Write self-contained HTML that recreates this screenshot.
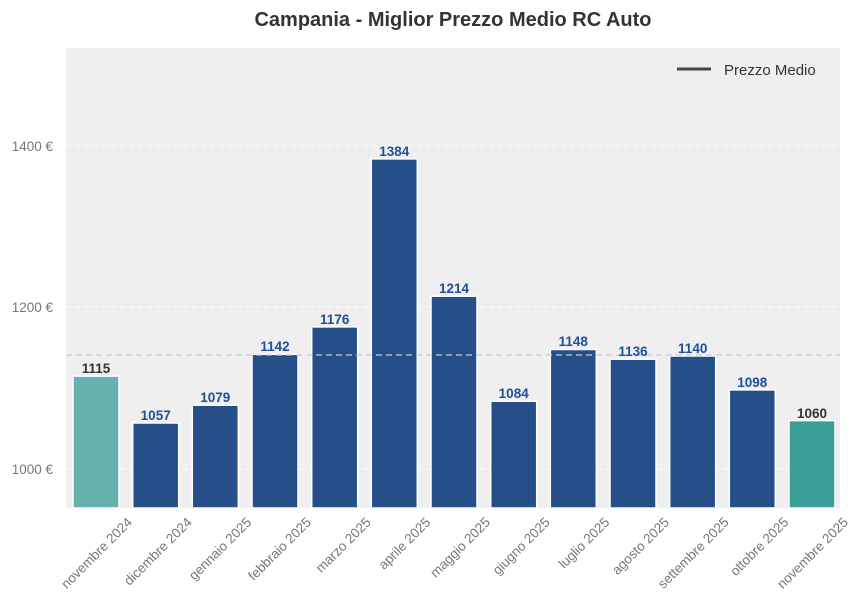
<!DOCTYPE html>
<html><head><meta charset="utf-8"><style>body{margin:0;background:#fff}svg{display:block}</style></head>
<body>
<svg width="860" height="610" viewBox="0 0 860 610" xmlns="http://www.w3.org/2000/svg" font-family="Liberation Sans, Arial, sans-serif">
<rect width="860" height="610" fill="#fff"/>
<text x="453" y="26" text-anchor="middle" font-size="20" font-weight="bold" fill="#333">Campania - Miglior Prezzo Medio RC Auto</text>
<rect x="66" y="48" width="774" height="460" fill="#efefef"/>
<g stroke="#fff" stroke-dasharray="5,4" stroke-width="1">
<line x1="66" y1="146" x2="840" y2="146"/><line x1="66" y1="307" x2="840" y2="307"/><line x1="66" y1="469" x2="840" y2="469"/>
</g>
<g font-size="13.5" fill="#777" text-anchor="end">
<text x="53" y="151">1400 €</text><text x="53" y="312">1200 €</text><text x="53" y="474">1000 €</text>
</g>
<g stroke="#fff" stroke-width="1.5">
<rect x="73" y="376.1" width="46" height="131.9" fill="#66b2ad"/>
<rect x="132.7" y="423" width="46" height="85" fill="#264f8a"/>
<rect x="192.3" y="405.2" width="46" height="102.8" fill="#264f8a"/>
<rect x="252" y="354.3" width="46" height="153.7" fill="#264f8a"/>
<rect x="311.7" y="326.9" width="46" height="181.1" fill="#264f8a"/>
<rect x="371.3" y="158.9" width="46" height="349.1" fill="#264f8a"/>
<rect x="431" y="296.2" width="46" height="211.8" fill="#264f8a"/>
<rect x="490.7" y="401.2" width="46" height="106.8" fill="#264f8a"/>
<rect x="550.3" y="349.5" width="46" height="158.5" fill="#264f8a"/>
<rect x="610" y="359.2" width="46" height="148.8" fill="#264f8a"/>
<rect x="669.7" y="356" width="46" height="152" fill="#264f8a"/>
<rect x="729.3" y="389.9" width="46" height="118.1" fill="#264f8a"/>
<rect x="789" y="420.6" width="46" height="87.4" fill="#3a9e96"/>
</g>
<line x1="66" y1="355" x2="840" y2="355" stroke="#c8c8d0" stroke-dasharray="6,4" stroke-width="1.2"/>
<g font-size="13.5" font-weight="bold" text-anchor="middle" fill="#1f4e9a">
<text x="96" y="373" fill="#333">1115</text>
<text x="155.7" y="420">1057</text>
<text x="215.3" y="402">1079</text>
<text x="275" y="351">1142</text>
<text x="334.7" y="324">1176</text>
<text x="394.3" y="156">1384</text>
<text x="454" y="293">1214</text>
<text x="513.7" y="398">1084</text>
<text x="573.3" y="346">1148</text>
<text x="633" y="356">1136</text>
<text x="692.7" y="353">1140</text>
<text x="752.3" y="387">1098</text>
<text x="812" y="418" fill="#333">1060</text>
</g>
<g font-size="13.5" fill="#777" text-anchor="end">
<text transform="translate(133,523) rotate(-45)">novembre 2024</text>
<text transform="translate(192.7,523) rotate(-45)">dicembre 2024</text>
<text transform="translate(252.3,523) rotate(-45)">gennaio 2025</text>
<text transform="translate(312,523) rotate(-45)">febbraio 2025</text>
<text transform="translate(371.7,523) rotate(-45)">marzo 2025</text>
<text transform="translate(431.3,523) rotate(-45)">aprile 2025</text>
<text transform="translate(491,523) rotate(-45)">maggio 2025</text>
<text transform="translate(550.7,523) rotate(-45)">giugno 2025</text>
<text transform="translate(610.3,523) rotate(-45)">luglio 2025</text>
<text transform="translate(670,523) rotate(-45)">agosto 2025</text>
<text transform="translate(729.7,523) rotate(-45)">settembre 2025</text>
<text transform="translate(789.3,523) rotate(-45)">ottobre 2025</text>
<text transform="translate(849,523) rotate(-45)">novembre 2025</text>
</g>
<line x1="677" y1="69" x2="711" y2="69" stroke="#444" stroke-width="3"/>
<text x="724" y="75" font-size="15" fill="#333">Prezzo Medio</text>
</svg>
</body></html>
